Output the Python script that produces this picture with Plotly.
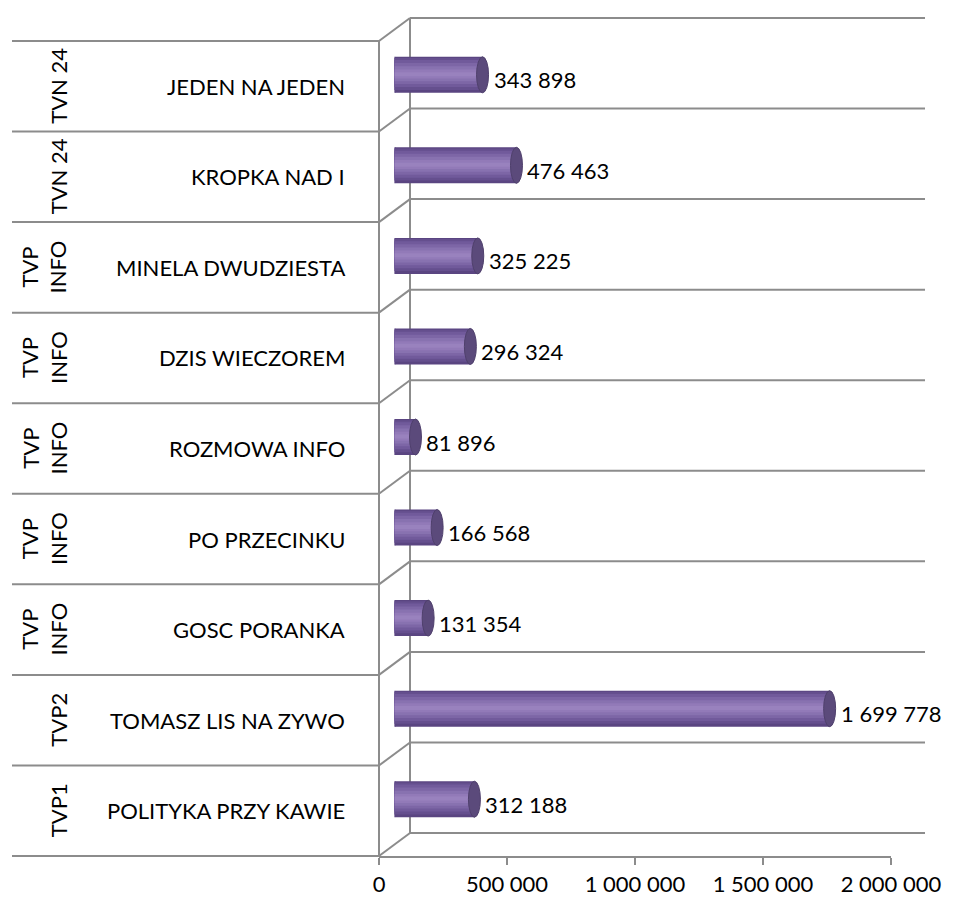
import plotly.graph_objects as go

# ---------------- data (bottom -> top, as in the chart) ----------------
channels = ["TVP1", "TVP2", "TVP INFO", "TVP INFO", "TVP INFO",
            "TVP INFO", "TVP INFO", "TVN 24", "TVN 24"]
programs = ["POLITYKA PRZY KAWIE", "TOMASZ LIS NA ZYWO", "GOSC PORANKA",
            "PO PRZECINKU", "ROZMOWA INFO", "DZIS WIECZOREM",
            "MINELA DWUDZIESTA", "KROPKA NAD I", "JEDEN NA JEDEN"]
viewers = [312188, 1699778, 131354, 166568, 81896, 296324, 325225, 476463, 343898]
tick_values = [0, 500000, 1000000, 1500000, 2000000]
tick_labels = ["0", "500 000", "1 000 000", "1 500 000", "2 000 000"]
x_max = 2000000

# ---------------- geometry (pixels) ----------------
W, H = 970, 900
FRONT_X, AXIS_RIGHT = 379, 891
TOP, BOTTOM = 41, 856
DX, DY = 31, 23               # depth offset of back wall
GRID_RIGHT = 925
TABLE_LEFT = 12
BAR_DX, BAR_DY = 15.5, 11.5   # bars sit at mid depth
N = len(programs)
ROW = (BOTTOM - TOP) / N

FONT = "Lato, Carlito, Calibri, sans-serif"
FS = 22
GRID = "#8c8c8c"


def fx(p):
    return p / W


def fy(p):
    return 1 - p / H


fig = go.Figure()

# invisible anchor trace for the front (category/value) axes
fig.add_trace(go.Scatter(x=[0] * N, y=programs, mode="markers",
                         marker=dict(size=1, opacity=0), hoverinfo="skip",
                         showlegend=False, xaxis="x", yaxis="y"))

# cylinder body built from overlaid bars (light band in the middle)
units_per_px = 1 / ROW
layers = [  # (height px, colour, upward shift px)
    (36, "#5a4581", 0.0),
    (32, "#654f8e", 0.8),
    (27, "#715a9b", 1.2),
    (21, "#7d66a6", 1.2),
    (15, "#8872b0", 1.0),
    (9, "#927ab8", 0.8),
    (4, "#9982be", 0.6),
]
for h, col, s in layers:
    w = h * units_per_px
    fig.add_trace(go.Bar(
        x=viewers, y=programs, orientation="h",
        width=w, offset=-w / 2 + s * units_per_px,
        marker=dict(color=col, line=dict(width=0)),
        hoverinfo="skip", showlegend=False, xaxis="x2", yaxis="y2"))

shapes = []
line = dict(color=GRID, width=2)

# back wall gridlines, depth connectors, left table lines
for k in range(N + 1):
    yk = TOP + k * ROW
    shapes.append(dict(type="line", xref="paper", yref="paper", layer="below",
                       x0=fx(FRONT_X + DX), x1=fx(GRID_RIGHT),
                       y0=fy(yk - DY), y1=fy(yk - DY), line=line))
    shapes.append(dict(type="line", xref="paper", yref="paper", layer="below",
                       x0=fx(FRONT_X), x1=fx(FRONT_X + DX),
                       y0=fy(yk), y1=fy(yk - DY), line=line))
    shapes.append(dict(type="line", xref="paper", yref="paper",
                       x0=fx(TABLE_LEFT), x1=fx(FRONT_X),
                       y0=fy(yk), y1=fy(yk), line=line))
# back wall vertical
shapes.append(dict(type="line", xref="paper", yref="paper", layer="below",
                   x0=fx(FRONT_X + DX), x1=fx(FRONT_X + DX),
                   y0=fy(TOP - DY), y1=fy(BOTTOM - DY), line=line))
# front vertical axis line
shapes.append(dict(type="line", xref="paper", yref="paper",
                   x0=fx(FRONT_X), x1=fx(FRONT_X),
                   y0=fy(TOP), y1=fy(BOTTOM), line=line))

# cylinder ends
bar_px_width = (AXIS_RIGHT - FRONT_X)
val_per_px = x_max / bar_px_width
cap_half = 6 * val_per_px
for i, v in enumerate(viewers):
    for h, col, s in layers:
        hh = h * units_per_px
        c = i + s * units_per_px
        shapes.append(dict(type="circle", xref="x2", yref="y2", layer="below",
                           x0=-cap_half * 0.9, x1=cap_half * 0.9,
                           y0=c - hh / 2, y1=c + hh / 2,
                           fillcolor=col, line=dict(width=0)))
    hh = 36 * units_per_px
    shapes.append(dict(type="circle", xref="x2", yref="y2",
                       x0=v - cap_half, x1=v + cap_half,
                       y0=i - hh / 2, y1=i + hh / 2,
                       fillcolor="#5b4a7b", line=dict(color="#4f406c", width=1)))

annotations = []
for i, (ch, pr, v) in enumerate(zip(channels, programs, viewers)):
    annotations.append(dict(
        xref="paper", yref="y", x=fx(347), y=pr, xanchor="right", yanchor="middle",
        text=pr, showarrow=False, font=dict(family=FONT, size=FS, color="#000")))
    annotations.append(dict(
        xref="paper", yref="y", x=fx(74), y=pr, xanchor="right", yanchor="middle",
        text=ch.replace(" INFO", "<br>INFO"), textangle=-90, showarrow=False,
        font=dict(family=FONT, size=FS, color="#000")))
    annotations.append(dict(
        xref="x2", yref="y2", x=v, y=pr, xanchor="left", yanchor="middle",
        xshift=9, yshift=-5, text=f"{v:,}".replace(",", " "), showarrow=False,
        font=dict(family=FONT, size=FS, color="#000")))

fig.update_layout(
    width=W, height=H, autosize=False,
    margin=dict(l=0, r=0, t=0, b=0, pad=0, autoexpand=False),
    paper_bgcolor="white", plot_bgcolor="rgba(0,0,0,0)",
    barmode="overlay",
    showlegend=False,
    xaxis=dict(domain=[fx(FRONT_X), fx(AXIS_RIGHT)], range=[0, x_max],
               anchor="y", tickvals=tick_values, ticktext=tick_labels,
               showgrid=False, zeroline=False, showline=True, automargin=False,
               linecolor=GRID, linewidth=2, ticks="outside", ticklen=7,
               tickwidth=2, tickcolor=GRID, ticklabelstandoff=1,
               tickfont=dict(family=FONT, size=FS, color="#000")),
    yaxis=dict(domain=[fy(BOTTOM), fy(TOP)], anchor="x", type="category",
               categoryorder="array", categoryarray=programs, automargin=False,
               range=[-0.5, N - 0.5], visible=False),
    xaxis2=dict(domain=[fx(FRONT_X + BAR_DX), fx(AXIS_RIGHT + BAR_DX)],
                range=[0, x_max], anchor="y2", visible=False, automargin=False),
    yaxis2=dict(domain=[fy(BOTTOM - BAR_DY), fy(TOP - BAR_DY)], anchor="x2",
                type="category", categoryorder="array", categoryarray=programs,
                range=[-0.5, N - 0.5], visible=False, automargin=False),
    shapes=shapes,
    annotations=annotations,
)

fig.write_html(
    "out.html",
    config={"responsive": False, "displayModeBar": False},
    post_script="document.body.style.margin='0';document.body.style.overflow='hidden';",
)
